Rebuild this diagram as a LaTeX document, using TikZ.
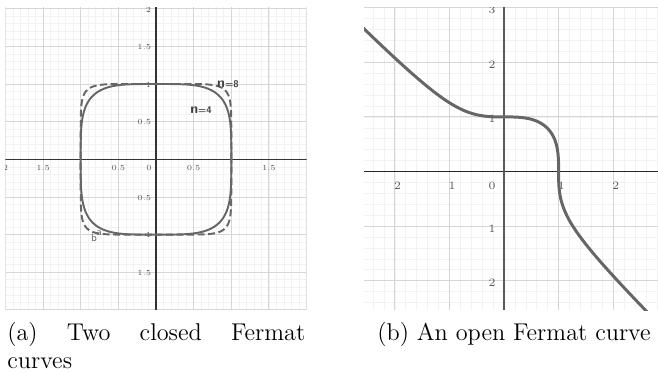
\documentclass[tikz,border=0pt]{standalone}
\usepackage{fontspec}
\usepackage{tikz}
\usetikzlibrary{positioning,calc}

\definecolor{gridminor}{gray}{0.95}
\definecolor{gridmajor}{gray}{0.84}
\definecolor{curvegray}{gray}{0.40}
\definecolor{ticktext}{gray}{0.35}

\tikzset{
  minorgrid/.style={gridminor,line width=0.35pt},
  majorgrid/.style={gridmajor,line width=0.5pt},
  axisline/.style={black!80,line width=0.6pt},
  ticksmall/.style={font=\fontsize{4.4}{5}\selectfont,text=ticktext,inner sep=0pt},
  ticklarge/.style={font=\fontsize{6.4}{7}\selectfont,text=ticktext,inner sep=0pt},
  fcurve/.style={curvegray,line width=1.1pt,line join=round},
  nlabel/.style={text=black!75,inner sep=0pt},
  capt/.style={font=\fontsize{13.8}{16.2}\selectfont,inner sep=0pt},
}

\begin{document}
\begin{tikzpicture}[x=0.02cm,y=0.02cm]
  \useasboundingbox (0,0) rectangle (658,-372);

  % (a) x^4+y^4=1 and x^8+y^8=1
  \begin{scope}[shift={(156,-159.3)},x=1.506cm,y=1.506cm]
    \clip (-2,-2) rectangle (2,2.02);
    \draw[minorgrid,step=0.1] (-2,-2) grid (2,2.02);
    \draw[majorgrid,step=0.5] (-2,-2) grid (2,2.02);
    \draw[axisline] (-2,0) -- (2,0);
    \draw[axisline] (0,-2) -- (0,2.02);
    \foreach \v/\t [count=\i] in {-2/2,-1.5/1.5,-1/1,-0.5/0.5,0.5/0.5,1.5/1.5}
      \node[ticksmall] (ax\i) at (\v,-0.115) {\t};
    \node[ticksmall] (ao) at (-0.093,-0.115) {0};
    \foreach \v/\t [count=\i] in {2/2,1.5/1.5,1/1,0.5/0.5,-0.5/0.5,-1/1,-1.5/1.5}
      \node[ticksmall,anchor=east] (ay\i) at (-0.06,\v-0.01) {\t};
    \draw[fcurve] plot[domain=0:360,samples=721]
      ({sign(cos(\x))*pow(abs(cos(\x))+0.00001,0.5)},{sign(sin(\x))*pow(abs(sin(\x))+0.00001,0.5)}) -- cycle;
    \draw[fcurve,dash pattern={on 4pt off 2pt}] plot[domain=0:360,samples=721]
      ({sign(cos(\x))*pow(abs(cos(\x))+0.00001,0.25)},{sign(sin(\x))*pow(abs(sin(\x))+0.00001,0.25)}) -- cycle;
    \node[nlabel] (neight) at (0.956,0.999) {\sffamily{\fontsize{8}{8}\selectfont\bfseries n}{\fontsize{5.5}{6}\selectfont\bfseries =8}};
    \node[nlabel] (nfour) at (0.598,0.653) {\sffamily{\fontsize{8}{8}\selectfont\bfseries n}{\fontsize{5.5}{6}\selectfont\bfseries =4}};
    \node[nlabel,text=black!60,font=\sffamily\fontsize{6}{6}\selectfont] (pb) at (-0.823,-1.045) {b};
    \node[nlabel,text=black!60,font=\sffamily\fontsize{6}{6}\selectfont] (pa) at (-0.757,-0.975) {a};
  \end{scope}

  % (b) x^3+y^3=1
  \begin{scope}[shift={(504,-171.5)},x=1.092cm,y=1.092cm]
    \clip (-2.564,-2.54) rectangle (2.82,3.01);
    \draw[minorgrid,step=0.2] (-2.564,-2.54) grid (2.82,3.01);
    \draw[majorgrid,step=1] (-2.564,-2.54) grid (2.82,3.01);
    \draw[black!85,line width=0.8pt] (-2.564,0) -- (2.82,0);
    \draw[black!65,line width=1.1pt] (0,-2.54) -- (0,3.01);
    \foreach \v/\t [count=\i] in {-2/2,-1/1,1/1,2/2}
      \node[ticklarge] (bx\i) at (\v+0.05,-0.266) {\t};
    \node[ticklarge] (bo) at (-0.22,-0.266) {0};
    \foreach \v/\t [count=\i] in {3/3,2/2,1/1,-1/1,-2/2}
      \node[ticklarge] (by\i) at (-0.22,\v-0.04) {\t};
    \draw[curvegray,line width=1.7pt,line join=round]
      plot[domain=-2.6:0.7937,samples=120] (\x,{pow(1-(\x)*(\x)*(\x),1/3)})
      -- plot[domain=0.7937:-2.6,samples=120] ({pow(1-(\x)*(\x)*(\x),1/3)},\x);
  \end{scope}

  \node[capt,text width=5.96cm,align=justify,anchor=north west] (capa) at (7,-321.7)
    {(a) Two closed Fermat\linebreak curves};
  \node[capt,anchor=base] (capb) at (514,-340) {(b) An open Fermat curve};
\end{tikzpicture}
\end{document}
